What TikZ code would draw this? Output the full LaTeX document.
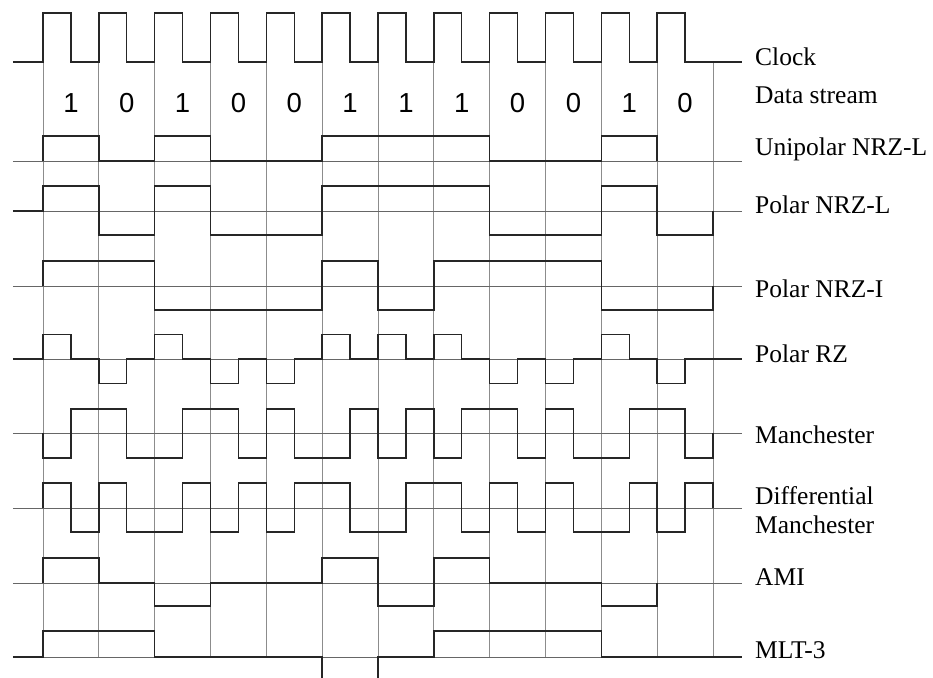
\documentclass[tikz,border=0pt]{standalone}
\usepackage{fontspec}
\setmainfont{Liberation Serif}
\newfontfamily\digitfont{Liberation Sans}
\usetikzlibrary{positioning}

\begin{document}
\begin{tikzpicture}[
  x=27.917pt, y=-1pt,
  gridline/.style={black!45,line width=0.8pt},
  zeroline/.style={black!60,line width=0.8pt},
  sig/.style={black!85,line width=1.4pt,line join=miter},
  lbl/.style={anchor=base west,inner sep=0pt,align=left,
    font=\fontsize{25.5}{29}\selectfont},
  bitlbl/.style={anchor=base,inner sep=0pt,font=\digitfont\fontsize{27.5}{28}\selectfont}
]
\useasboundingbox (-1.540,0) rectangle (31.880,677);
\clip (-1.540,0) rectangle (31.880,677);
% grid and zero lines
\foreach \i in {0,2,...,24} \draw[gridline] (\i,62) -- (\i,657);
\foreach \yy in {161,211,286,359,433,508,583,657}
  \draw[zeroline] (-1.075,\yy) -- (25.04,\yy);
% clock and data
\draw[sig] (-1.075,62) foreach \i in {0,...,11}
  { -- (2*\i,62) -- (2*\i,13) -- (2*\i+1,13) -- (2*\i+1,62) } -- (25.04,62);
\foreach \b [count=\i from 0] in {1,0,1,0,0,1,1,1,0,0,1,0}
  \node[bitlbl] (d\i) at (2*\i+1,112) {\b};
% unipolar NRZ-L
\draw[sig] (0,161) -- (0,136) -- (2,136) -- (2,161) -- (4,161) -- (4,136) -- (6,136) -- (6,161)
  -- (10,161) -- (10,136) -- (16,136) -- (16,161) -- (20,161) -- (20,136) -- (22,136) -- (22,161);
% polar NRZ-L
\draw[sig] (-1.075,211) -- (0,211) -- (0,186) -- (2,186) -- (2,235) -- (4,235) -- (4,186) -- (6,186)
  -- (6,235) -- (10,235) -- (10,186) -- (16,186) -- (16,235) -- (20,235) -- (20,186) -- (22,186)
  -- (22,235) -- (24,235) -- (24,211);
% polar NRZ-I
\draw[sig] (0,286) -- (0,261) -- (4,261) -- (4,310) -- (10,310) -- (10,261) -- (12,261) -- (12,310)
  -- (14,310) -- (14,261) -- (20,261) -- (20,310) -- (24,310) -- (24,286);
% polar RZ
\draw[sig] (-1.075,359) foreach \b [count=\i from 0] in {1,0,1,0,0,1,1,1,0,0,1,0}
  { -- (2*\i,359) -- (2*\i,{359+24.5*(1-2*\b)}) -- (2*\i+1,{359+24.5*(1-2*\b)}) -- (2*\i+1,359) }
  -- (25.04,359);
% manchester
\draw[sig] (0,433) foreach \v [count=\i from 0] in
  {458,409,409,458,458,409,409,458,409,458,458,409,458,409,458,409,409,458,409,458,458,409,409,458}
  { -- (\i,\v) -- (\i+1,\v) } -- (24,433);
% differential manchester
\draw[sig] (0,508) foreach \v [count=\i from 0] in
  {483,532,483,532,532,483,532,483,532,483,483,532,532,483,483,532,483,532,483,532,532,483,532,483}
  { -- (\i,\v) -- (\i+1,\v) } -- (24,508);
% AMI
\draw[sig] (0,583) -- (0,558) -- (2,558) -- (2,583) -- (4,583) -- (4,606) -- (6,606) -- (6,583)
  -- (10,583) -- (10,558) -- (12,558) -- (12,606) -- (14,606) -- (14,558) -- (16,558) -- (16,583)
  -- (20,583) -- (20,606) -- (22,606) -- (22,583);
% MLT-3
\draw[sig] (-1.075,657) -- (0,657) -- (0,631) -- (4,631) -- (4,657) -- (10,657) -- (10,682) -- (12,682)
  -- (12,657) -- (14,657) -- (14,631) -- (20,631) -- (20,657) -- (25.04,657);
% labels
\node[lbl] (lclk)  at (25.504,65)  {Clock};
\node[lbl] (ldata) at (25.504,103) {Data stream};
\node[lbl] (luni)  at (25.504,155) {Unipolar NRZ-L};
\node[lbl] (lnrzl) at (25.504,213) {Polar NRZ-L};
\node[lbl] (lnrzi) at (25.504,297) {Polar NRZ-I};
\node[lbl] (lrz)   at (25.504,362) {Polar RZ};
\node[lbl] (lman)  at (25.504,443) {Manchester};
\node[lbl] (ldman) at (25.504,533) {Differential\\Manchester};
\node[lbl] (lami)  at (25.504,585) {AMI};
\node[lbl] (lmlt)  at (25.504,658) {MLT-3};
\end{tikzpicture}
\end{document}
